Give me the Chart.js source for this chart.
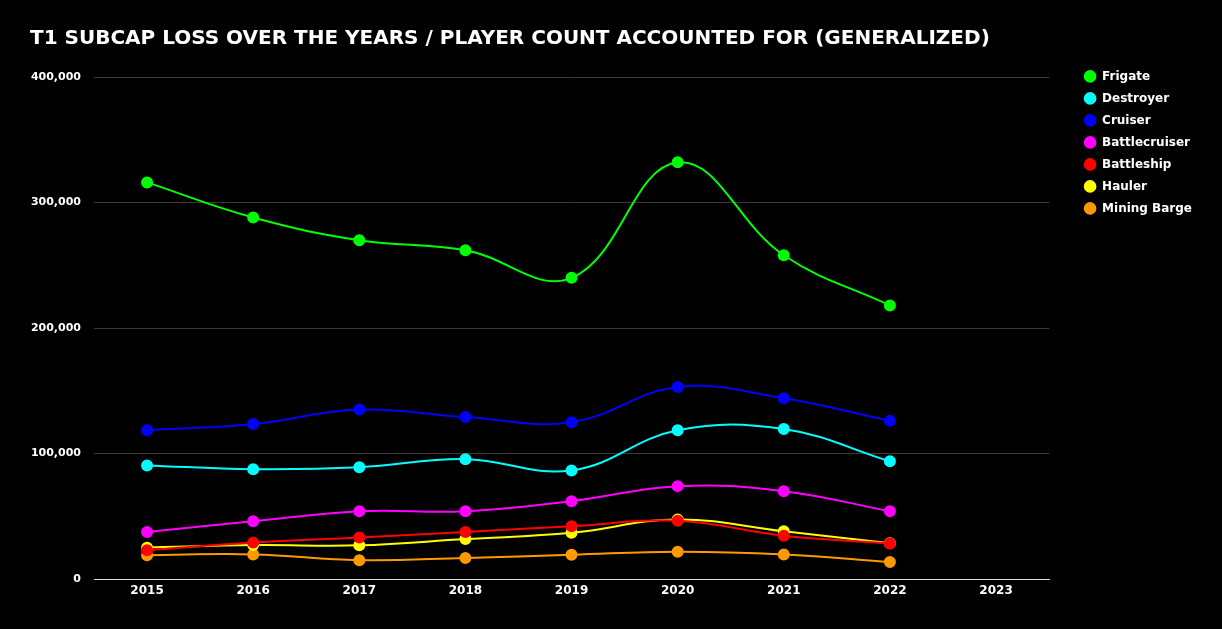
<!DOCTYPE html>
<html>
<head>
<meta charset="utf-8">
<script src="https://cdn.jsdelivr.net/npm/chart.js@4"></script>
<style>
  html, body { margin: 0; padding: 0; background: #000; }
  #wrap { width: 1222px; height: 629px; }
</style>
</head>
<body>
<div id="wrap"><canvas id="chart"></canvas></div>
<script>
// years on the x axis (2023 has no data yet)
const years = ['2015', '2016', '2017', '2018', '2019', '2020', '2021', '2022', '2023'];

// losses per hull class
const frigate       = [316000, 288000, 270000, 262000, 240000, 332000, 258000, 218000];
const destroyer     = [90500, 87500, 89000, 95500, 86500, 118500, 119500, 93800];
const cruiser       = [118500, 123500, 135000, 129000, 125000, 153000, 144000, 126000];
const battlecruiser = [37500, 46000, 54000, 54000, 62000, 74000, 70000, 54000];
const battleship    = [23000, 29000, 33000, 37500, 42000, 46500, 34500, 28300];
const hauler        = [25000, 27000, 26800, 31800, 36800, 47500, 38000, 28500];
const miningBarge   = [19000, 19600, 15000, 16800, 19300, 21800, 19600, 13500];

const seriesNames  = ['Frigate', 'Destroyer', 'Cruiser', 'Battlecruiser', 'Battleship', 'Hauler', 'Mining Barge'];
const seriesValues = [frigate, destroyer, cruiser, battlecruiser, battleship, hauler, miningBarge];
const seriesColors = ['#00ff00', '#00ffff', '#0000ff', '#ff00ff', '#ff0000', '#ffff00', '#ff9900'];

const FONT = '"DejaVu Sans", sans-serif';

const datasets = seriesNames.map((name, i) => ({
  label: name,
  data: seriesValues[i],
  borderColor: seriesColors[i],
  backgroundColor: seriesColors[i],
  pointBackgroundColor: seriesColors[i],
  pointBorderColor: seriesColors[i],
  borderWidth: 2,
  pointRadius: 5,
  tension: 0.4,
  fill: false
}));

// paint the whole canvas black
const bgPlugin = {
  id: 'bg',
  beforeDraw(chart) {
    const c = chart.ctx;
    c.save();
    c.fillStyle = '#000';
    c.fillRect(0, 0, chart.width, chart.height);
    c.restore();
  }
};

new Chart(document.getElementById('chart'), {
  type: 'line',
  data: { labels: years, datasets: datasets },
  plugins: [bgPlugin],
  options: {
    responsive: true,
    maintainAspectRatio: false,
    animation: false,
    layout: { padding: { left: 30, right: 20, top: 27, bottom: 30 } },
    plugins: {
      title: {
        display: true,
        align: 'start',
        text: 'T1 SUBCAP LOSS OVER THE YEARS / PLAYER COUNT ACCOUNTED FOR (GENERALIZED)',
        color: '#fff',
        font: { family: FONT, size: 20, weight: 'bold' },
        padding: { top: 0, bottom: 26 }
      },
      legend: {
        position: 'right',
        align: 'start',
        // blank legend title, just pushes the items down level with the plot top
        title: {
          display: true,
          text: ' ',
          font: { family: FONT, size: 12 },
          padding: { top: 19, bottom: 0 }
        },
        labels: {
          color: '#fff',
          usePointStyle: true,
          pointStyle: 'circle',
          boxWidth: 12,
          boxHeight: 7.5,
          padding: 10,
          font: { family: FONT, size: 12, weight: 'bold' }
        }
      },
      tooltip: { enabled: false }
    },
    scales: {
      x: {
        offset: true,
        grid: { display: false, drawTicks: false },
        border: { color: '#ddd', width: 1 },
        ticks: {
          color: '#fff',
          padding: 5,
          maxRotation: 0,
          font: { family: FONT, size: 12, weight: 'bold' }
        },
        afterFit: s => { s.height = 20; }
      },
      y: {
        min: 0,
        max: 400000,
        grid: { color: '#3a3a3a', drawTicks: false },
        border: { display: false },
        ticks: {
          stepSize: 100000,
          color: '#fff',
          padding: 13,
          font: { family: FONT, size: 11, weight: 'bold' },
          callback: v => v.toLocaleString('en-US')
        },
        afterFit: s => { s.width = 64; }
      },
      // empty axis on the right, only keeps a gap before the legend
      gap: {
        position: 'right',
        grid: { display: false },
        border: { display: false },
        ticks: { display: false },
        afterFit: s => { s.width = 25; }
      }
    }
  }
});
</script>
</body>
</html>
